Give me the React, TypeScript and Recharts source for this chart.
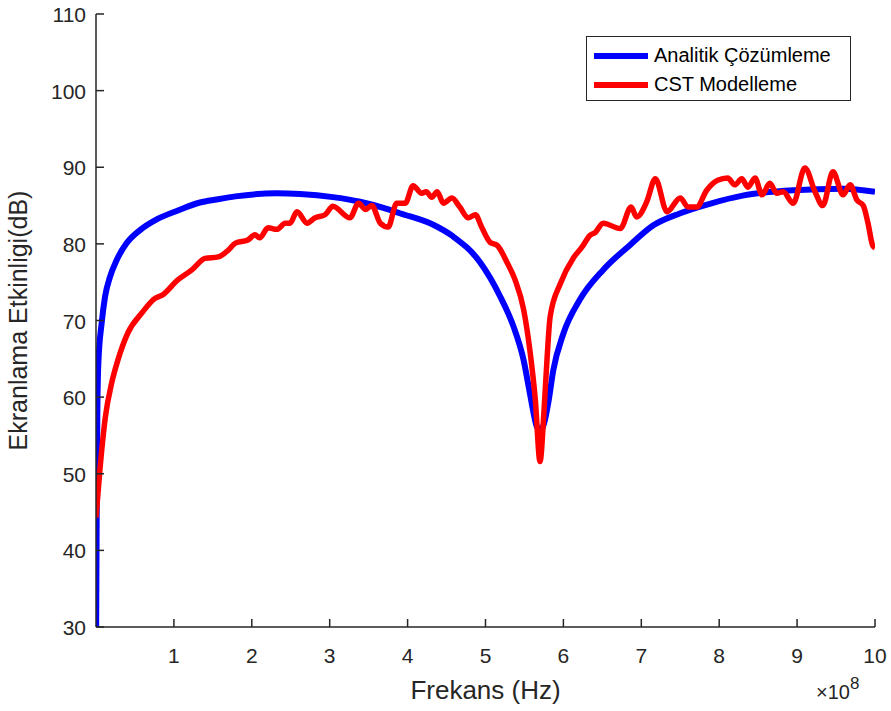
import { LineChart, Line, XAxis, YAxis, Legend } from "recharts"

// frequency in units of 1e8 Hz, shielding effectiveness in dB
const analyticX = [0.002, 0.009, 0.017, 0.03, 0.073, 0.116, 0.18, 0.266, 0.394, 0.565, 0.779, 1.036, 1.335, 1.55, 1.79, 2.32, 2.62, 3.04, 3.39, 3.69, 3.9, 4.33, 4.58, 4.93, 5.19, 5.36, 5.49, 5.57, 5.66, 5.7, 5.75, 5.81, 5.87, 6.0, 6.21, 6.51, 6.86, 7.15, 7.5, 7.9, 8.3, 8.95, 9.59, 10]
const analyticY = [30, 44.9, 57.9, 64.4, 69.7, 73.1, 75.7, 77.9, 80.1, 81.8, 83.2, 84.3, 85.4, 85.8, 86.2, 86.6, 86.5, 86.1, 85.5, 84.7, 84.0, 82.5, 81.0, 77.6, 73.1, 69.2, 64.8, 60.5, 56.1, 55.5, 56.5, 59.5, 63.5, 68.3, 72.7, 76.6, 79.9, 82.4, 84.0, 85.3, 86.3, 87.0, 87.2, 86.8]

const cstX = [0, 0.05, 0.12, 0.2, 0.28, 0.41, 0.59, 0.76, 0.85, 1.05, 1.23, 1.4, 1.57, 1.7, 1.79, 1.95, 2.04, 2.1, 2.21, 2.32, 2.43, 2.49, 2.58, 2.71, 2.81, 2.94, 3.04, 3.26, 3.37, 3.46, 3.54, 3.65, 3.75, 3.86, 3.97, 4.07, 4.18, 4.24, 4.31, 4.38, 4.46, 4.57, 4.67, 4.78, 4.87, 4.95, 5.06, 5.15, 5.28, 5.38, 5.49, 5.57, 5.64, 5.7, 5.75, 5.79, 5.83, 5.96, 6.13, 6.24, 6.34, 6.41, 6.51, 6.73, 6.87, 6.94, 7.07, 7.18, 7.33, 7.5, 7.6, 7.71, 7.84, 7.98, 8.11, 8.2, 8.29, 8.37, 8.46, 8.55, 8.65, 8.74, 8.82, 8.95, 9.1, 9.23, 9.33, 9.46, 9.59, 9.68, 9.77, 9.85, 9.91, 9.97, 10]
const cstY = [44.3, 50.5, 57.4, 61.8, 64.8, 68.4, 71.0, 72.9, 73.3, 75.3, 76.6, 78.1, 78.3, 79.2, 80.1, 80.5, 81.2, 80.8, 82.1, 81.9, 82.7, 82.7, 84.2, 82.7, 83.4, 83.8, 84.9, 83.4, 85.3, 84.5, 85.0, 82.7, 82.2, 85.3, 85.3, 87.6, 86.6, 86.8, 86.1, 86.8, 85.3, 86.0, 84.8, 83.4, 83.8, 82.2, 80.2, 79.8, 77.5, 75.3, 71.4, 66.1, 59.6, 51.6, 58.0, 65.0, 70.5, 74.8, 78.2, 79.6, 81.1, 81.5, 82.7, 82.0, 84.8, 83.5, 85.5, 88.5, 84.2, 86.0, 84.8, 84.8, 87.0, 88.3, 88.6, 87.7, 88.5, 87.4, 88.6, 86.4, 87.9, 86.6, 86.8, 85.3, 89.9, 86.8, 85.0, 89.4, 86.4, 87.7, 85.7, 85.0, 82.7, 79.8, 79.5]

const xTicks = [1, 2, 3, 4, 5, 6, 7, 8, 9, 10]
const yTicks = [30, 40, 50, 60, 70, 80, 90, 100, 110]

const analytic = analyticX.map((x, i) => ({ x, y: analyticY[i] }))
const cst = cstX.map((x, i) => ({ x, y: cstY[i] }))

const W = 891
const H = 711
const LEFT = 96
const RIGHT = 875
const TOP = 14
const BOTTOM = 627
const INK = "#262626"
const FONT = "'Liberation Sans', Arial, sans-serif"

const BottomTick = (props: any) => {
  const { x, payload } = props
  return (
    <g>
      <line x1={x} x2={x} y1={BOTTOM} y2={BOTTOM - 8} stroke={INK} strokeWidth={1.5} />
      <text x={x} y={BOTTOM + 36} textAnchor="middle" fontSize={21} fontFamily={FONT} fill={INK}>
        {payload.value}
      </text>
    </g>
  )
}

const TopTick = (props: any) => {
  const { x } = props
  return <line x1={x} x2={x} y1={TOP} y2={TOP + 8} stroke={INK} strokeWidth={1.5} />
}

const LeftTick = (props: any) => {
  const { y, payload } = props
  return (
    <g>
      <line x1={LEFT} x2={LEFT + 8} y1={y} y2={y} stroke={INK} strokeWidth={1.5} />
      <text x={LEFT - 10} y={y + 8} textAnchor="end" fontSize={21} fontFamily={FONT} fill={INK}>
        {payload.value}
      </text>
    </g>
  )
}

const RightTick = (props: any) => {
  const { y } = props
  return <line x1={RIGHT} x2={RIGHT - 8} y1={y} y2={y} stroke={INK} strokeWidth={1.5} />
}

const renderLegend = (props: any) => {
  const { payload } = props
  return (
    <div
      style={{
        width: 265,
        height: 65,
        border: `1px solid ${INK}`,
        background: "#fff",
        fontFamily: FONT,
        fontSize: 20,
        color: "#000",
        boxSizing: "border-box",
        paddingTop: 4,
      }}
    >
      {payload.map((entry: any) => (
        <div key={entry.value} style={{ display: "flex", alignItems: "center", height: 29 }}>
          <div style={{ width: 54, height: 6, background: entry.color, marginLeft: 7, marginRight: 6 }} />
          <span>{entry.value}</span>
        </div>
      ))}
    </div>
  )
}

export default function App() {
  return (
    <div style={{ position: "absolute", left: 0, top: 0, width: W, height: H, background: "#fff" }}>
      <LineChart width={W} height={H} margin={{ top: TOP, right: W - RIGHT, bottom: 0, left: 0 }}>
        <XAxis
          dataKey="x"
          type="number"
          domain={[0, 10]}
          ticks={xTicks}
          allowDataOverflow
          height={H - BOTTOM}
          axisLine={{ stroke: INK, strokeWidth: 1.5 }}
          tickLine={false}
          tick={<BottomTick />}
          label={{
            value: "Frekans (Hz)",
            position: "insideBottom",
            offset: 12,
            style: { fontSize: 26, fontFamily: FONT, fill: INK },
          }}
        />
        <XAxis
          xAxisId="top"
          orientation="top"
          dataKey="x"
          type="number"
          domain={[0, 10]}
          ticks={xTicks}
          height={0}
          axisLine={{ stroke: INK, strokeWidth: 1.5 }}
          tickLine={false}
          tick={<TopTick />}
        />
        <YAxis
          type="number"
          domain={[30, 110]}
          ticks={yTicks}
          allowDataOverflow
          width={LEFT}
          axisLine={{ stroke: INK, strokeWidth: 1.5 }}
          tickLine={false}
          tick={<LeftTick />}
          label={{
            value: "Ekranlama Etkinligi(dB)",
            angle: -90,
            position: "insideLeft",
            offset: 18,
            style: { textAnchor: "middle", fontSize: 25, fontFamily: FONT, fill: INK },
          }}
        />
        <YAxis
          yAxisId="right"
          orientation="right"
          type="number"
          domain={[30, 110]}
          ticks={yTicks}
          width={0}
          axisLine={{ stroke: INK, strokeWidth: 1.5 }}
          tickLine={false}
          tick={<RightTick />}
        />
        <Legend
          layout="vertical"
          align="center"
          verticalAlign="middle"
          content={renderLegend}
          wrapperStyle={{ position: "absolute", left: 586, top: 36, width: 265, height: 65 }}
        />
        <Line
          data={analytic}
          dataKey="y"
          name="Analitik Çözümleme"
          type="monotone"
          stroke="#0000ff"
          strokeWidth={6}
          dot={false}
          isAnimationActive={false}
        />
        <Line
          data={cst}
          dataKey="y"
          name="CST Modelleme"
          type="monotone"
          stroke="#ff0000"
          strokeWidth={5.5}
          dot={false}
          isAnimationActive={false}
        />
      </LineChart>
      <div
        style={{
          position: "absolute",
          left: 816,
          top: 676,
          fontFamily: FONT,
          fontSize: 20,
          color: INK,
          whiteSpace: "nowrap",
        }}
      >
        ×10<sup style={{ fontSize: 17, position: "relative", top: -2 }}>8</sup>
      </div>
    </div>
  )
}
